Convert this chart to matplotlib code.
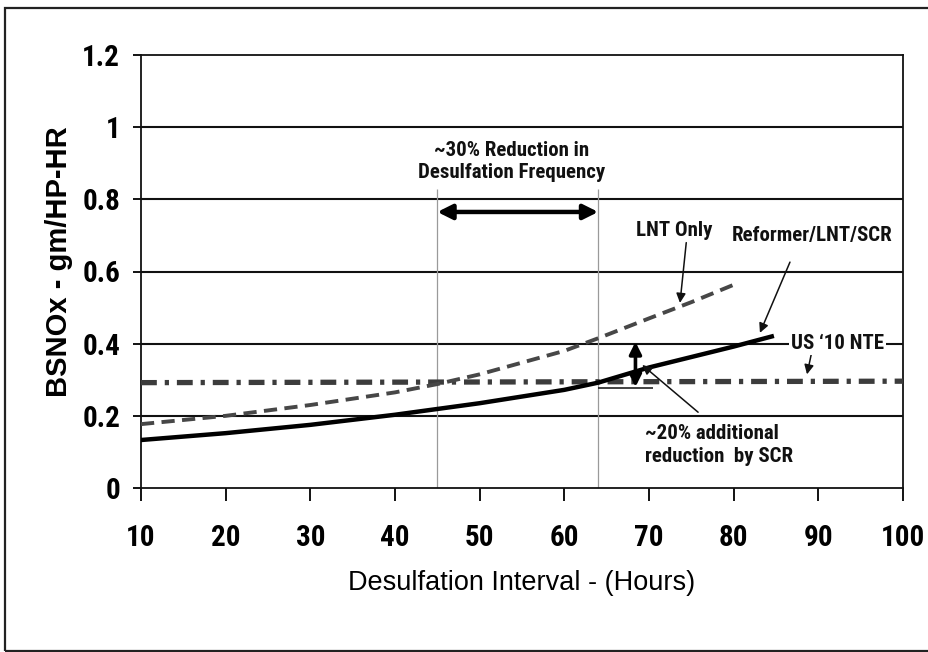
import matplotlib
matplotlib.use("Agg")
import matplotlib.pyplot as plt
from matplotlib import font_manager
from matplotlib.patches import Rectangle

# --- data -------------------------------------------------------------
x_ticks = [10, 20, 30, 40, 50, 60, 70, 80, 90, 100]
y_ticks = [0, 0.2, 0.4, 0.6, 0.8, 1.0, 1.2]
y_tick_labels = ["0", "0.2", "0.4", "0.6", "0.8", "1", "1.2"]

lnt_hours = [10, 20, 30, 40, 45, 50, 60, 64, 70, 75, 80.5]
lnt_nox = [0.177, 0.200, 0.230, 0.265, 0.288, 0.315, 0.380, 0.415, 0.470, 0.515, 0.568]

ref_hours = [10, 20, 30, 40, 50, 60, 64, 70, 80, 84.5]
ref_nox = [0.133, 0.152, 0.175, 0.203, 0.235, 0.272, 0.292, 0.334, 0.392, 0.420]

nte_hours = [10, 100]
nte_nox = [0.292, 0.296]

window_start, window_end = 45, 64

# --- fonts ------------------------------------------------------------
installed = {f.name for f in font_manager.fontManager.ttflist}
narrow_choice = next((n for n in ["Liberation Sans Narrow", "Arial Narrow",
                                  "Roboto Condensed", "Nimbus Sans Narrow"]
                      if n in installed), None)
if narrow_choice:
    narrow = [narrow_choice, "DejaVu Sans"]
    nscale = 1.0
else:
    narrow = ["Liberation Sans", "DejaVu Sans"]
    nscale = 0.86
wide = ["Liberation Sans", "DejaVu Sans"]

W, H, DPI = 929, 652, 100
fig = plt.figure(figsize=(W / DPI, H / DPI), dpi=DPI)
fig.patch.set_facecolor("white")

# outer frame
fig.add_artist(Rectangle((5 / W, 1 - 651 / H), 1.05, (651 - 8) / H,
                         transform=fig.transFigure, fill=False,
                         edgecolor="#222222", linewidth=1.6))

ax = fig.add_axes([141 / W, 1 - 488 / H, 762 / W, 433 / H])
ax.set_xlim(10, 100)
ax.set_ylim(0, 1.2)

for s in ax.spines.values():
    s.set_color("#111111")
    s.set_linewidth(1.3)

# horizontal grid lines
for yv in y_ticks[1:-1]:
    ax.axhline(yv, color="#111111", linewidth=1.5, zorder=1)

# desulfation window markers
ax.vlines([window_start, window_end], 0, 0.83, colors="#9a9a9a",
          linewidth=0.9, zorder=1)

# curves
ax.plot(nte_hours, nte_nox, color="#3c3c3c", linewidth=3.8,
        dashes=(3.0, 1.5, 0.8, 1.5), solid_capstyle="butt", zorder=3)
ax.plot(lnt_hours, lnt_nox, color="#474747", linewidth=2.8,
        dashes=(3.4, 1.9), zorder=4)
ax.plot(ref_hours, ref_nox, color="black", linewidth=3.2, zorder=5)

# ticks
ax.set_xticks(x_ticks)
ax.set_yticks(y_ticks)
ax.set_yticklabels(y_tick_labels)
ax.tick_params(axis="x", direction="out", length=9, width=1.3, pad=17,
               labelsize=21 * nscale)
ax.tick_params(axis="y", direction="out", length=6, width=1.3, pad=9,
               labelsize=21 * nscale)
for lab in ax.get_xticklabels() + ax.get_yticklabels():
    lab.set_family(narrow)
    lab.set_fontweight("bold")

ax.set_xlabel("Desulfation Interval - (Hours)", family=wide, fontsize=19.5)
ax.xaxis.set_label_coords(0.5, -0.19)
ax.set_ylabel("BSNOx - gm/HP-HR", family=wide, fontsize=21,
              fontweight="bold")
ax.yaxis.set_label_coords(-0.089, 0.523)

ann_kw = dict(family=narrow, fontweight="bold", fontsize=15 * nscale,
              color="#111111")
thin_arrow = dict(arrowstyle="-|>", color="#111111", lw=1.1,
                  mutation_scale=14, shrinkA=0, shrinkB=0)

# reduction window
ax.text(53.8, 0.905, "~30% Reduction in\nDesulfation Frequency",
        ha="center", va="center", linespacing=1.2, **ann_kw)
ax.annotate("", xy=(window_start, 0.765), xytext=(window_end, 0.765),
            arrowprops=dict(arrowstyle="<|-|>", color="black", lw=3.2,
                            mutation_scale=22, shrinkA=0, shrinkB=0),
            zorder=6)

# series labels
ax.text(73.0, 0.715, "LNT Only", ha="center", va="center", **ann_kw)
ax.annotate("", xy=(73.66, 0.513), xytext=(74.4, 0.68),
            arrowprops=thin_arrow, zorder=6)

ax.text(89.25, 0.70, "Reformer/LNT/SCR", ha="center", va="center", **ann_kw)
ax.annotate("", xy=(83.1, 0.43), xytext=(86.65, 0.626),
            arrowprops=thin_arrow, zorder=6)

ax.text(92.3, 0.40, "US \u201810 NTE", ha="center", va="center",
        bbox=dict(facecolor="white", edgecolor="none", pad=1.5),
        zorder=7, **ann_kw)
ax.annotate("", xy=(88.66, 0.315), xytext=(89.25, 0.38),
            arrowprops=thin_arrow, zorder=6)

# SCR contribution
ax.annotate("", xy=(68.4, 0.405), xytext=(68.4, 0.28),
            arrowprops=dict(arrowstyle="<|-|>", color="black", lw=2.6,
                            mutation_scale=18, shrinkA=0, shrinkB=0),
            zorder=6)
ax.hlines(0.277, window_end, 70.5, colors="#111111", linewidth=1.1, zorder=6)
ax.text(69.55, 0.12, "~20% additional\nreduction  by SCR", ha="left",
        va="center", linespacing=1.25, **ann_kw)
ax.annotate("", xy=(69.2, 0.341), xytext=(75.8, 0.21),
            arrowprops=thin_arrow, zorder=6)

fig.savefig("out.png", dpi=DPI, facecolor="white")
